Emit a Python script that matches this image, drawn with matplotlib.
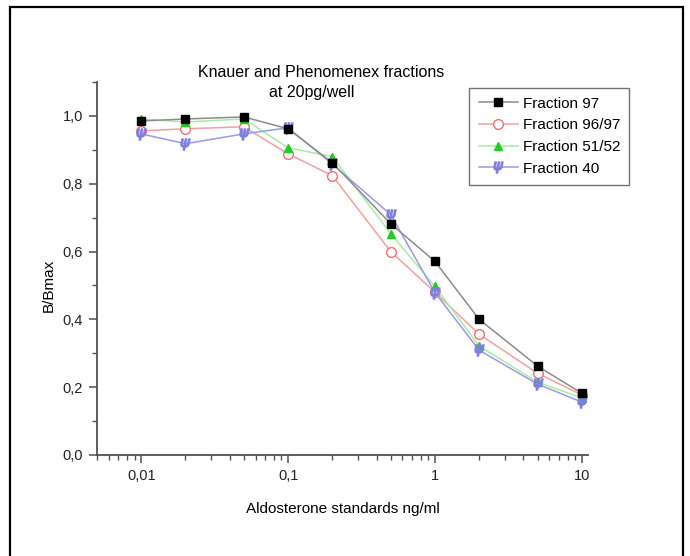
import matplotlib
matplotlib.use("Agg")
import matplotlib.pyplot as plt
import matplotlib.patches as patches
from matplotlib.ticker import FixedLocator, LogLocator, NullFormatter, MultipleLocator

plt.rcParams['font.family'] = ['Liberation Sans', 'DejaVu Sans']

# standards (ng/ml) and B/Bmax for each fraction
conc = [0.01, 0.02, 0.05, 0.1, 0.2, 0.5, 1, 2, 5, 10]
frac_97 = [0.985, 0.991, 0.997, 0.962, 0.862, 0.682, 0.571, 0.400, 0.262, 0.182]
frac_96_97 = [0.956, 0.962, 0.968, 0.888, 0.824, 0.600, 0.480, 0.356, 0.241, 0.177]
frac_51_52 = [0.991, 0.982, 0.991, 0.906, 0.880, 0.653, 0.497, 0.321, 0.215, 0.168]
frac_40 = [0.947, 0.918, 0.947, 0.965, 0.858, 0.709, 0.479, 0.309, 0.209, 0.156]

xtick_vals = [0.01, 0.1, 1, 10]
xtick_text = ["0,01", "0,1", "1", "10"]
ytick_vals = [0.0, 0.2, 0.4, 0.6, 0.8, 1.0]
ytick_text = ["0,0", "0,2", "0,4", "0,6", "0,8", "1,0"]

fig = plt.figure(figsize=(6.9, 5.56), dpi=100)
ax = fig.add_axes([0.1406, 0.1817, 0.7114, 0.6708])

ax.plot(conc, frac_97, color="#8c8c8c", lw=1.1, marker="s", ms=5.5,
        mfc="black", mec="black", label="Fraction 97", zorder=4)
ax.plot(conc, frac_96_97, color="#f2a0a0", lw=1.1, marker="o", ms=7,
        mfc="white", mec="#f07070", mew=1.0, label="Fraction 96/97", zorder=3)
ax.plot(conc, frac_51_52, color="#a6eca6", lw=1.1, marker="^", ms=6,
        mfc="#22cc22", mec="#22cc22", label="Fraction 51/52", zorder=3)
ax.plot(conc, frac_40, color="#9a9ae6", lw=1.1, marker=r"$\psi$", ms=8,
        mfc="#7f7fe0", mec="#7f7fe0", label="Fraction 40", zorder=3)

ax.set_xscale("log")
ax.set_xlim(0.005, 11)
ax.set_ylim(0, 1.1)

ax.xaxis.set_major_locator(FixedLocator(xtick_vals))
ax.set_xticklabels(xtick_text)
ax.xaxis.set_minor_locator(LogLocator(base=10, subs=range(2, 10)))
ax.xaxis.set_minor_formatter(NullFormatter())
ax.yaxis.set_major_locator(FixedLocator(ytick_vals))
ax.set_yticklabels(ytick_text)
ax.yaxis.set_minor_locator(MultipleLocator(0.1))

for side in ("top", "right"):
    ax.spines[side].set_visible(False)
for side in ("left", "bottom"):
    ax.spines[side].set_color("#505050")
    ax.spines[side].set_linewidth(1.3)

ax.tick_params(which="major", direction="out", length=6, width=1.1,
               color="#505050", labelsize=10.5, labelcolor="#222222", pad=4)
ax.tick_params(which="minor", direction="out", length=3.5, width=1.0,
               color="#505050")

ax.set_xlabel("Aldosterone standards ng/ml", fontsize=11, labelpad=14)
ax.set_ylabel("B/Bmax", fontsize=11, labelpad=10)
ax.yaxis.set_label_coords(-0.085, 0.455)

fig.text(0.465, 0.862, "Knauer and Phenomenex fractions", ha="center",
         va="baseline", fontsize=11.5)
fig.text(0.452, 0.826, "at 20pg/well", ha="center", va="baseline", fontsize=11.5)

leg = ax.legend(loc="upper left", bbox_to_anchor=(0.7585, 0.985),
                fontsize=11, frameon=True, fancybox=False, borderpad=0.6,
                labelspacing=0.5, handlelength=2.6, handletextpad=0.3,
                borderaxespad=0)
leg.get_frame().set_edgecolor("#505050")
leg.get_frame().set_linewidth(1.0)

# outer frame, open at the bottom edge
frame = patches.Rectangle((10 / 690, -0.05), 673 / 690, 1.05 - 7 / 556,
                          transform=fig.transFigure, fill=False,
                          edgecolor="black", lw=1.6, clip_on=False)
fig.add_artist(frame)

fig.savefig("out.png", dpi=100)
